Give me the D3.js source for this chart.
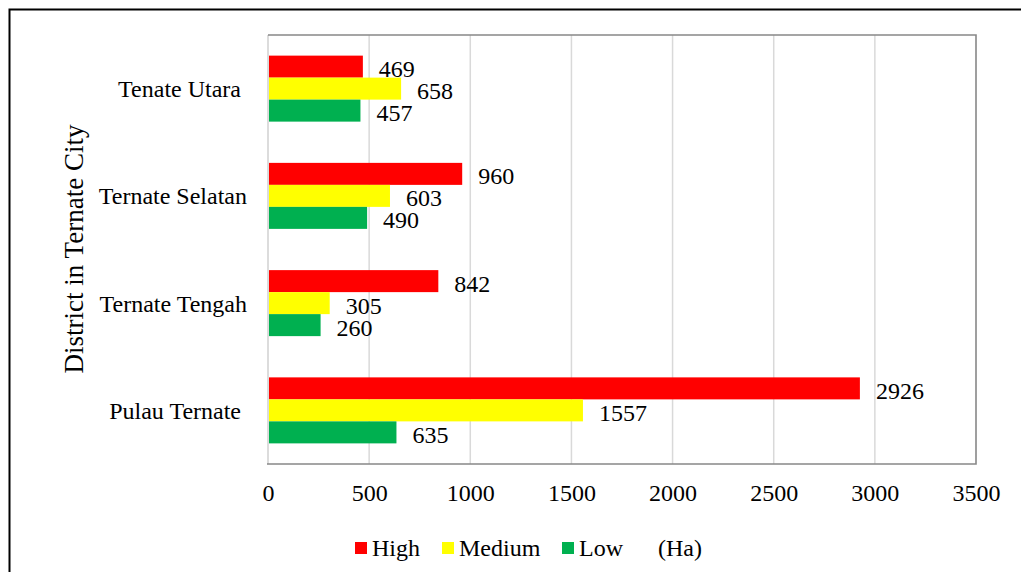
<!DOCTYPE html>
<html>
<head>
<meta charset="utf-8">
<script src="https://cdn.jsdelivr.net/npm/d3@7"></script>
<style>
  html, body { margin: 0; padding: 0; background: #fff; }
  svg text { font-family: "Liberation Serif", "Times New Roman", serif !important; }
  .cat { white-space: pre; }
</style>
</head>
<body>
<svg id="chart" width="1021" height="572"></svg>
<script>
// Districts, top to bottom (trailing spaces kept as in the axis labels)
const districts = ["Tenate Utara ", "Ternate Selatan", "Ternate Tengah", "Pulau Ternate "];
const seriesNames = ["High", "Medium", "Low"];
const seriesColors = ["#FF0000", "#FFFF00", "#00B050"];
// Area in hectares per district, one array per class
const high   = [469, 960, 842, 2926];
const medium = [658, 603, 305, 1557];
const low    = [457, 490, 260, 635];
const xTicks = [0, 500, 1000, 1500, 2000, 2500, 3000, 3500];
const axisTitle = "District in Ternate City";
const unitLabel = "(Ha)";

const seriesValues = [high, medium, low];

const svg = d3.select("#chart");

// Outer frame (runs off the right and bottom edges)
svg.append("path")
  .attr("d", "M9.5,572 L9.5,9.5 L1021,9.5")
  .attr("fill", "none").attr("stroke", "#000").attr("stroke-width", 2);

const plot = { left: 268, right: 976, top: 35, bottom: 464 };

const x = d3.scaleLinear().domain([0, 3500]).range([plot.left, plot.right]);
const y = d3.scaleBand().domain(districts).range([plot.top, plot.bottom]).padding(0);
const inner = d3.scaleBand().domain(seriesNames).range([-33, 33]).padding(0);

// Vertical gridlines
svg.append("g").selectAll("line").data(xTicks.slice(1, -1)).join("line")
  .attr("x1", d => x(d)).attr("x2", d => x(d))
  .attr("y1", plot.top).attr("y2", plot.bottom)
  .attr("stroke", "#D9D9D9").attr("stroke-width", 1.5);

// Value axis line at zero
svg.append("line")
  .attr("x1", x(0)).attr("x2", x(0)).attr("y1", plot.top).attr("y2", plot.bottom)
  .attr("stroke", "#D0D0D0").attr("stroke-width", 1.5);

// Plot frame: top, right, bottom
svg.append("path")
  .attr("d", `M${x(0)},${plot.top} L${plot.right},${plot.top} L${plot.right},${plot.bottom} L${x(0) - 1},${plot.bottom}`)
  .attr("fill", "none").attr("stroke", "#888888").attr("stroke-width", 1.6);

// Bars
const groups = svg.append("g").selectAll("g").data(districts).join("g")
  .attr("transform", d => `translate(0,${y(d) + y.bandwidth() / 2})`);

seriesNames.forEach((name, si) => {
  groups.append("rect")
    .attr("x", x(0) + 1)
    .attr("y", inner(name))
    .attr("width", (d, i) => x(seriesValues[si][i]) - x(0) - 1)
    .attr("height", inner.bandwidth())
    .attr("fill", seriesColors[si]);

  groups.append("text")
    .attr("x", (d, i) => x(seriesValues[si][i]) + 16)
    .attr("y", inner(name) + inner.bandwidth() / 2 + 10.5)
    .attr("font-size", 24)
    .attr("fill", "#000")
    .text((d, i) => seriesValues[si][i]);
});

// Category labels
svg.append("g").selectAll("text").data(districts).join("text")
  .attr("class", "cat")
  .attr("x", 247)
  .attr("y", d => y(d) + y.bandwidth() / 2 + 8.5)
  .attr("text-anchor", "end")
  .attr("font-size", 24)
  .attr("fill", "#000")
  .text(d => d);

// Tick labels on the value axis
const xAxis = d3.axisBottom(x).tickValues(xTicks).tickSize(0).tickPadding(0).tickFormat(d3.format("d"));
const axG = svg.append("g").attr("transform", `translate(0,${plot.bottom})`).call(xAxis);
axG.select(".domain").remove();
axG.selectAll("text")
  .attr("y", 37).attr("dy", null)
  .attr("font-size", 24)
  .attr("fill", "#000");

// Axis title
svg.append("text")
  .attr("transform", `translate(83,249) rotate(-90)`)
  .attr("text-anchor", "middle")
  .attr("font-size", 27)
  .attr("fill", "#000")
  .text(axisTitle);

// Legend
const legendItems = [
  { name: "High", color: seriesColors[0], x: 355 },
  { name: "Medium", color: seriesColors[1], x: 442 },
  { name: "Low", color: seriesColors[2], x: 562 }
];
const leg = svg.append("g");
leg.selectAll("rect").data(legendItems).join("rect")
  .attr("x", d => d.x).attr("y", 542).attr("width", 12).attr("height", 12)
  .attr("fill", d => d.color);
leg.selectAll("text").data(legendItems).join("text")
  .attr("x", d => d.x + 17).attr("y", 556)
  .attr("font-size", 24).attr("fill", "#000")
  .text(d => d.name);
leg.append("text")
  .attr("x", 658).attr("y", 556)
  .attr("font-size", 24).attr("fill", "#000")
  .text(unitLabel);
</script>
</body>
</html>
